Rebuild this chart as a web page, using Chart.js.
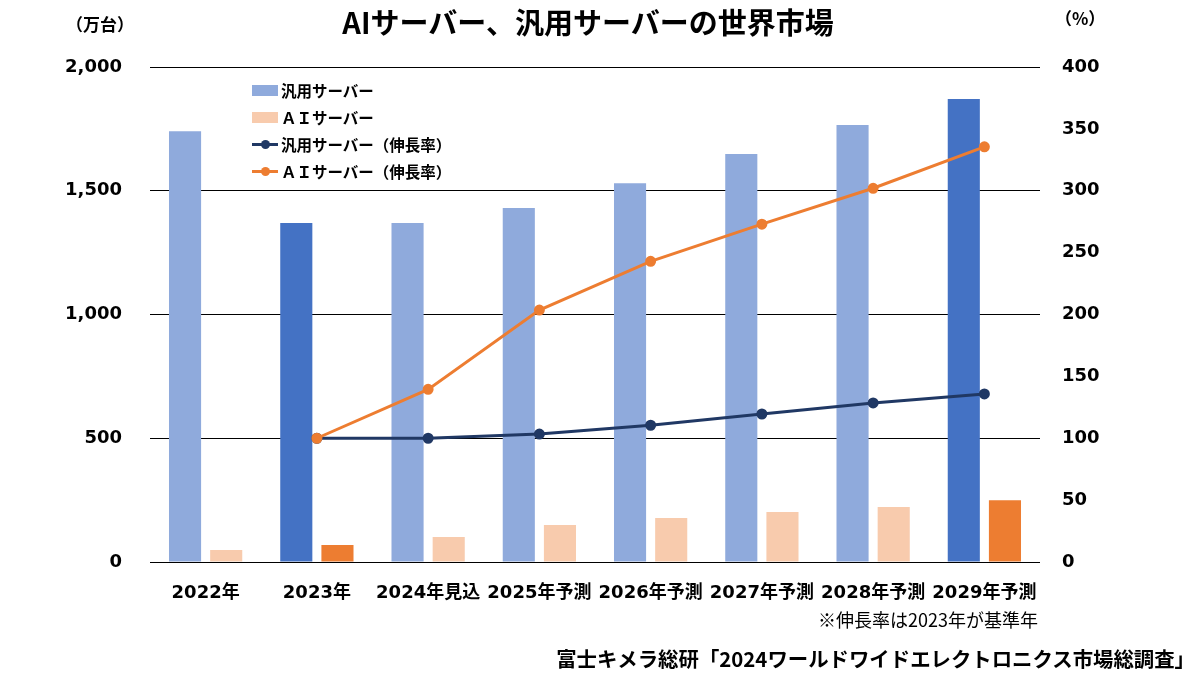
<!DOCTYPE html>
<html lang="ja">
<head>
<meta charset="utf-8">
<script src="https://cdn.jsdelivr.net/npm/chart.js@4"></script>
<style>
  body { margin: 0; background: #fff; font-family: "Noto Sans CJK JP", sans-serif; }
  #wrap { position: relative; width: 1200px; height: 675px; }
  .txt { position: absolute; color: #000; white-space: nowrap; font-weight: bold; }
  #title { left: 0; width: 1176px; top: 0px; text-align: center; font-size: 29px; }
  #unitL { left: 66px; top: 11px; font-size: 17px; }
  #unitR { left: 1055px; top: 5px; font-size: 17px; }
  #note { right: 162px; top: 606px; font-size: 18px; font-weight: normal; }
  #source { right: 5px; top: 643px; font-size: 20.4px; }
  .leg { position: absolute; left: 252px; font-size: 15.5px; font-weight: bold; display: flex; align-items: center; }
  .leg .box { width: 26px; height: 11px; margin-right: 3px; }
  .leg .ln { width: 26px; height: 3px; margin-right: 3px; position: relative; }
  .leg .ln span { position: absolute; left: 9px; top: -3px; width: 9px; height: 9px; border-radius: 50%; }
</style>
</head>
<body>
<div id="wrap">
  <canvas id="serverChart" width="1200" height="675"></canvas>
  <div class="txt" id="title">AIサーバー、汎用サーバーの世界市場</div>
  <div class="txt" id="unitL">（万台）</div>
  <div class="txt" id="unitR">（%）</div>
  <div class="txt" id="note">※伸長率は2023年が基準年</div>
  <div class="txt" id="source">富士キメラ総研「2024ワールドワイドエレクトロニクス市場総調査」</div>
  <div class="leg" style="top:79px"><div class="box" style="background:#8FAADC"></div>汎用サーバー</div>
  <div class="leg" style="top:106px"><div class="box" style="background:#F8CBAD"></div>ＡＩサーバー</div>
  <div class="leg" style="top:133px"><div class="ln" style="background:#203864"><span style="background:#203864"></span></div>汎用サーバー（伸長率）</div>
  <div class="leg" style="top:160px"><div class="ln" style="background:#ED7D31"><span style="background:#ED7D31"></span></div>ＡＩサーバー（伸長率）</div>
</div>
<script>
// Data (万台 / %)
const years = ["2022年", "2023年", "2024年見込", "2025年予測", "2026年予測", "2027年予測", "2028年予測", "2029年予測"];
const generalUnits = [1740, 1370, 1370, 1430, 1530, 1648, 1766, 1871];
const aiUnits = [48, 69, 101, 150, 178, 202, 222, 250];
const generalGrowth = [null, 100, 100, 103.4, 110.5, 119.6, 128.5, 135.8];
const aiGrowth = [null, 100, 139.5, 203.6, 243, 273, 302, 335.5];

const highlight = [1, 7];
const generalColors = years.map((y, i) => highlight.includes(i) ? "#4472C4" : "#8FAADC");
const aiColors = years.map((y, i) => highlight.includes(i) ? "#ED7D31" : "#F8CBAD");

const tickFont = { family: "'DejaVu Sans', 'Noto Sans CJK JP', sans-serif", size: 18, weight: "bold" };

const serverChartBuilder = (canvasId) => {
  try {
    let canvasObject = document.getElementById(canvasId);
    new Chart(canvasObject, {
      data: {
        labels: years,
        datasets: [
          {
            type: "line",
            label: "汎用サーバー（伸長率）",
            data: generalGrowth,
            yAxisID: "yR",
            borderColor: "#203864",
            backgroundColor: "#203864",
            borderWidth: 3,
            pointRadius: 4,
            tension: 0,
            order: 1,
          },
          {
            type: "line",
            label: "ＡＩサーバー（伸長率）",
            data: aiGrowth,
            yAxisID: "yR",
            borderColor: "#ED7D31",
            backgroundColor: "#ED7D31",
            borderWidth: 3,
            pointRadius: 4,
            tension: 0,
            order: 0,
          },
          {
            type: "bar",
            label: "汎用サーバー",
            data: generalUnits,
            yAxisID: "yL",
            backgroundColor: generalColors,
            categoryPercentage: 0.74,
            barPercentage: 0.78,
            order: 2,
          },
          {
            type: "bar",
            label: "ＡＩサーバー",
            data: aiUnits,
            yAxisID: "yL",
            backgroundColor: aiColors,
            categoryPercentage: 0.74,
            barPercentage: 0.78,
            order: 2,
          },
        ],
      },
      options: {
        responsive: false,
        animation: false,
        layout: { padding: { top: 67, left: 0, right: 0, bottom: 0 } },
        scales: {
          x: {
            grid: { display: false, drawTicks: false },
            border: { display: false },
            ticks: { color: "#000", font: tickFont, padding: 21, maxRotation: 0, autoSkip: false },
            afterFit: (scale) => { scale.height = 113; },
          },
          yL: {
            position: "left",
            min: 0,
            max: 2000,
            ticks: {
              stepSize: 500,
              color: "#000",
              font: tickFont,
              padding: 28,
              callback: (v) => v.toLocaleString("en-US"),
            },
            grid: { color: "#000", lineWidth: 1, drawTicks: false },
            border: { display: false },
            afterFit: (scale) => { scale.width = 150; },
          },
          yR: {
            position: "right",
            min: 0,
            max: 400,
            ticks: { stepSize: 50, color: "#000", font: tickFont, padding: 22 },
            grid: { display: false, drawTicks: false },
            border: { display: false },
            afterFit: (scale) => { scale.width = 160; },
          },
        },
        plugins: {
          legend: { display: false },
          tooltip: { enabled: false },
        },
      },
    });
  } catch (error) {
    console.log(error.message);
  }
};

serverChartBuilder("serverChart");
</script>
</body>
</html>
